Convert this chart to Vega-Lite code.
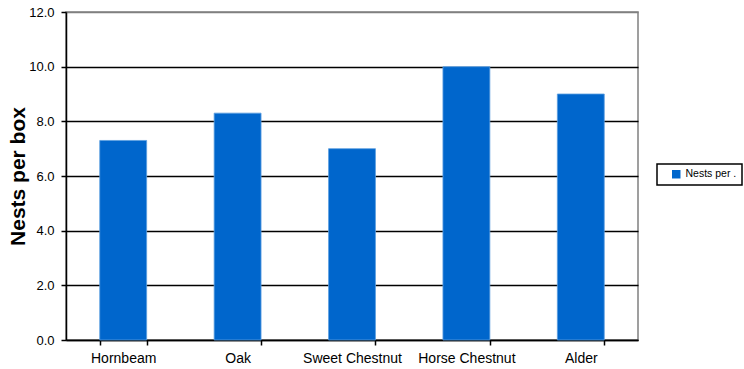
{
  "$schema": "https://vega.github.io/schema/vega-lite/v6.json",
  "autosize": "none",
  "width": 572,
  "height": 328,
  "padding": {"left": 66, "top": 12, "right": 106, "bottom": 29},
  "background": "white",
  "config": {
    "font": "Liberation Sans",
    "view": {"stroke": "#808080", "strokeWidth": 1.5},
    "legend": {"strokeWidth": 1.5}
  },
  "data": {
    "values": [
      {"tree": "Hornbeam", "series": "Nests per box", "nests": 7.3},
      {"tree": "Oak", "series": "Nests per box", "nests": 8.3},
      {"tree": "Sweet Chestnut", "series": "Nests per box", "nests": 7.0},
      {"tree": "Horse Chestnut", "series": "Nests per box", "nests": 10.0},
      {"tree": "Alder", "series": "Nests per box", "nests": 9.0}
    ]
  },
  "mark": {"type": "bar", "stroke": "#5C9EE0", "strokeWidth": 0.8},
  "encoding": {
    "x": {
      "field": "tree",
      "type": "nominal",
      "sort": null,
      "scale": {"paddingInner": 0.59, "paddingOuter": 0.295},
      "axis": {
        "title": null,
        "labelAngle": 0,
        "labelFontSize": 14,
        "labelColor": "black",
        "labelPadding": 6,
        "tickBand": "extent",
        "tickColor": "black",
        "tickSize": 5,
        "tickWidth": 1.5,
        "domainColor": "black",
        "domainWidth": 1.5,
        "grid": false
      }
    },
    "y": {
      "field": "nests",
      "type": "quantitative",
      "scale": {"domain": [0, 12], "nice": false},
      "axis": {
        "title": "Nests per box",
        "titleFontSize": 21,
        "titleFontWeight": "bold",
        "titleColor": "black",
        "titlePadding": 0,
        "values": [0, 2, 4, 6, 8, 10, 12],
        "format": ".1f",
        "labelFontSize": 13,
        "labelColor": "black",
        "labelPadding": 7,
        "tickColor": "black",
        "tickSize": 5,
        "tickWidth": 1.5,
        "domainColor": "black",
        "domainWidth": 1.5,
        "grid": true,
        "gridColor": {"condition": {"test": "datum.value == 12", "value": "#808080"}, "value": "black"},
        "gridWidth": 1.3
      }
    },
    "color": {
      "field": "series",
      "type": "nominal",
      "scale": {"range": ["#0066CC"]},
      "legend": {
        "title": null,
        "orient": "none",
        "legendX": 591,
        "legendY": 152,
        "strokeColor": "black",
        "padding": 5,
        "symbolType": "square",
        "symbolSize": 72,
        "symbolOffset": 9,
        "symbolStrokeWidth": 0,
        "labelFontSize": 10.5,
        "labelColor": "black",
        "labelLimit": 120,
        "labelExpr": "slice(datum.label, 0, 10) + '.'"
      }
    }
  }
}
